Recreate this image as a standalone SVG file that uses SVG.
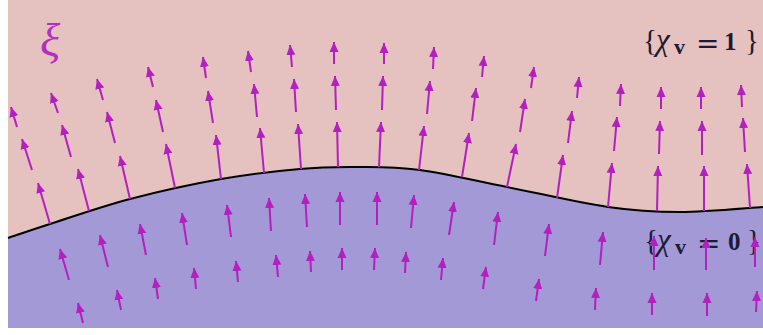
<svg xmlns="http://www.w3.org/2000/svg" width="763" height="335" viewBox="0 0 763 335">
<style>
.bg{fill:#e5c1bf}
.low{fill:#a499d7}
.curve{fill:none;stroke:#000;stroke-width:2}
.arr path{fill:none;stroke:#b41fc0;stroke-width:2;marker-end:url(#ah)}
.a path,.e path{stroke-dasharray:67 100}
.b path,.d path{stroke-dasharray:78 100}
.c path{stroke-dasharray:84 100}
.lbl{font-family:"Liberation Serif","DejaVu Serif",serif;font-size:29px;fill:#1c1b33}
.chi{font-style:italic;font-size:31px}
.eq{font-family:"DejaVu Serif",serif;font-size:28px}
.sub{font-weight:bold;font-size:22px}
.num{font-weight:bold;font-size:25px}
</style>
<defs>
<marker id="ah" viewBox="-10 -5 10 10" refX="0" refY="0" markerWidth="10" markerHeight="10" markerUnits="userSpaceOnUse" orient="auto">
<path d="M0,0 L-10,-4.5 L-10,4.5 Z" fill="#b41fc0"/>
</marker>
</defs>
<g id="regions">
<rect class="bg" x="8" y="0" width="755" height="328"/>
<path class="low" d="M8,238 C15,235.7 29.7,230.5 50,224 C70.3,217.5 101.5,206.5 130,199 C158.5,191.5 192.7,184 221,179 C249.3,174 276.8,171 300,169 C323.2,167 340,167.2 360,167 C380,166.8 395.5,166.7 420,170 C444.5,173.3 475.7,180.8 507,187 C538.3,193.2 579.2,202.8 608,207 C636.8,211.2 654.2,212 680,212 C705.8,212 749.2,207.8 763,207 L763,328 L8,328 Z"/>
<path id="interface" class="curve" d="M8,238 C15,235.7 29.7,230.5 50,224 C70.3,217.5 101.5,206.5 130,199 C158.5,191.5 192.7,184 221,179 C249.3,174 276.8,171 300,169 C323.2,167 340,167.2 360,167 C380,166.8 395.5,166.7 420,170 C444.5,173.3 475.7,180.8 507,187 C538.3,193.2 579.2,202.8 608,207 C636.8,211.2 654.2,212 680,212 C705.8,212 749.2,207.8 763,207"/>
</g>
<g id="labels">
<text x="40" y="56" font-family="Liberation Serif,DejaVu Serif,serif" font-style="italic" font-size="47" fill="#b42fc0">ξ</text>
<text class="lbl" y="50"><tspan x="643">{</tspan><tspan class="chi" x="656">χ</tspan><tspan class="sub" x="674" dy="4">v</tspan><tspan class="eq" x="696" dy="-1">=</tspan><tspan class="num" x="724" dy="-3">1</tspan><tspan x="745">}</tspan></text>
<text class="lbl" y="250"><tspan x="644">{</tspan><tspan class="chi" x="657">χ</tspan><tspan class="sub" x="675" dy="4">v</tspan><tspan class="eq" x="697" dy="-1">=</tspan><tspan class="num" x="728" dy="-3">0</tspan><tspan x="747">}</tspan></text>
</g>
<g id="arrows" class="arr">
<g class="a">
<path d="M17 127L11 107"/><path d="M58 113L51 93"/><path d="M103 100L97 79"/><path d="M153 87L148 67"/><path d="M206 78L203 57"/><path d="M251 72L248 51"/><path d="M292 67L290 45"/><path d="M334 64L334 42"/><path d="M384 64L384 43"/><path d="M433 69L434 47"/><path d="M482 77L484 56"/><path d="M531 88L534 67"/><path d="M577 98L579 77"/><path d="M620 106L621 84"/><path d="M661 109L661 87"/><path d="M701 109L701 87"/><path d="M742 107L741 85"/>
</g>
<g class="b">
<path d="M32 170L22 139"/><path d="M71 157L62 125"/><path d="M115 143L107 112"/><path d="M163 132L156 100"/><path d="M213 123L208 91"/><path d="M257 117L254 84"/><path d="M296 112L294 79"/><path d="M336 110L335 76"/><path d="M382 110L383 76"/><path d="M427 114L430 81"/><path d="M472 121L476 88"/><path d="M520 132L525 99"/><path d="M568 143L572 111"/><path d="M614 151L617 117"/><path d="M659 154L660 121"/><path d="M702 155L702 121"/><path d="M745 152L743 118"/>
</g>
<g class="c">
<path d="M50 224L38 183"/><path d="M89 211L78 169"/><path d="M130 199L120 156"/><path d="M175 188L166 144"/><path d="M221 179L216 135"/><path d="M264 173L260 128"/><path d="M301 169L298 124"/><path d="M338 167L337 122"/><path d="M379 167L381 122"/><path d="M419 170L424 126"/><path d="M462 177L469 133"/><path d="M507 187L516 144"/><path d="M557 198L563 155"/><path d="M608 207L612 163"/><path d="M657 211L658 166"/><path d="M704 211L704 166"/><path d="M750 208L747 164"/>
</g>
<g class="d">
<path d="M69 280L60 249"/><path d="M108 267L100 235"/><path d="M146 255L140 224"/><path d="M187 245L182 213"/><path d="M231 237L227 205"/><path d="M271 231L269 198"/><path d="M307 227L305 194"/><path d="M340 225L340 192"/><path d="M377 225L377 192"/><path d="M411 228L414 195"/><path d="M449 235L454 202"/><path d="M494 245L498 212"/><path d="M545 256L549 224"/><path d="M600 265L603 232"/><path d="M654 270L654 236"/><path d="M706 270L706 238"/><path d="M755 267L755 237"/>
</g>
<g class="e">
<path d="M83 323L78 303"/><path d="M121 310L117 290"/><path d="M158 299L155 278"/><path d="M196 289L194 268"/><path d="M238 282L236 261"/><path d="M278 277L276 255"/><path d="M311 272L310 251"/><path d="M342 270L342 248"/><path d="M374 270L375 248"/><path d="M405 273L406 252"/><path d="M441 280L443 258"/><path d="M483 289L486 267"/><path d="M536 301L539 279"/><path d="M595 310L596 288"/><path d="M652 315L652 293"/><path d="M707 316L707 293"/><path d="M756 312L757 291"/>
</g>
</g>
</svg>
